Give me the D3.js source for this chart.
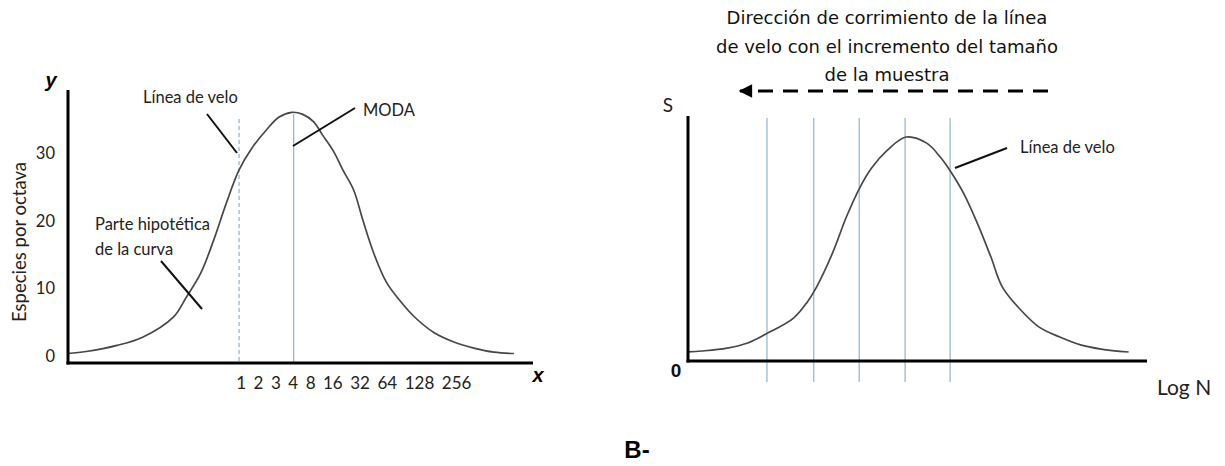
<!DOCTYPE html>
<html>
<head>
<meta charset="utf-8">
<script src="https://cdn.jsdelivr.net/npm/d3@7/dist/d3.min.js"></script>
<style>
  html, body { margin: 0; padding: 0; background: #fff; }
  svg { display: block; }
</style>
</head>
<body>
<svg id="fig" width="1225" height="466"></svg>
<script>
// ---- Left panel: species per octave (Preston curve) ----
const octavePos   = [-9.4, -8.4, -6.7, -5.3, -3.6, -2.9, -2.1, -1.4, -0.7, 0, 0.7, 1.5, 2.2, 2.9, 3.5, 4.1, 4.6, 5.2, 5.7, 6.3, 6.8, 7.4, 8.1, 8.9, 9.6, 10.7, 11.8, 12.9, 14.0, 15.1];
const speciesPerOctave = [0.4, 0.7, 1.6, 2.8, 5.8, 8.7, 12.3, 17.1, 22.6, 27.5, 30.7, 33.4, 35.3, 36.0, 35.7, 34.6, 32.6, 30.2, 27.5, 24.5, 20.1, 15.2, 10.9, 8.0, 5.9, 3.5, 2.1, 1.2, 0.6, 0.4];
const yTicks = [0, 10, 20, 30];
const octaveLabels = ["1", "2", "3", "4", "8", "16", "32", "64", "128", "256"];
const veilOctave = 0;   // veil line at the "1" octave
const modeOctave = 3;   // mode at the "4" octave

// ---- Right panel: S vs Log N ----
const logN   = [0, 0.3, 0.85, 1.3, 1.7, 2.3, 2.6, 2.8, 3.15, 3.45, 3.75, 4.0, 4.35, 4.75, 5.2, 5.5, 5.7, 6.0, 6.3, 6.6, 6.85, 7.25, 7.65, 8.1, 8.55, 9.0, 9.6];
const speciesS = [3.7, 4.1, 5.3, 7.4, 11.1, 17.6, 24.2, 30.3, 44.3, 59, 71.3, 79.1, 86.5, 91.8, 89.3, 83.5, 78.3, 68.9, 56.6, 42.6, 30.3, 20.9, 13.9, 9.8, 6.6, 4.9, 3.7];
const veilPositions = [1.72, 2.74, 3.73, 4.73, 5.71];
const titleLines = ["Dirección de corrimiento de la línea", "de velo con el incremento del tamaño", "de la muestra"];

const svg = d3.select("#fig");
svg.append("rect").attr("width", 1225).attr("height", 466).attr("fill", "#fff");

const SANS = "Lato, 'Open Sans', sans-serif";
const HAND = "'DejaVu Sans', sans-serif";
const curveColor = "#474747";
const blue = "#8fb2d0";

// ================= LEFT PANEL =================
const xL = d3.scaleLinear().domain([-9.4, 16.15]).range([68, 533]);
const yL = d3.scaleLinear().domain([-1, 39]).range([363, 92]);
const gL = svg.append("g");

// y tick labels
const yAxisL = d3.axisLeft(yL).tickValues(yTicks).tickSize(0).tickPadding(13).tickFormat(d3.format("d"));
const yAx = gL.append("g").attr("transform", `translate(${xL(-9.4)},0)`).call(yAxisL);
yAx.select(".domain").remove();
yAx.selectAll("text").attr("font-family", SANS).attr("font-size", 16.5).attr("fill", "#222");

// veil (dashed) and mode (solid) lines
gL.append("line")
  .attr("x1", xL(veilOctave)).attr("x2", xL(veilOctave))
  .attr("y1", yL(35)).attr("y2", yL(-1))
  .attr("stroke", blue).attr("stroke-width", 1.2).attr("stroke-dasharray", "4,3");
gL.append("line")
  .attr("x1", xL(modeOctave)).attr("x2", xL(modeOctave))
  .attr("y1", yL(35.8)).attr("y2", yL(-1))
  .attr("stroke", blue).attr("stroke-width", 1.2);

// curve
const lineL = d3.line().x((d, i) => xL(octavePos[i])).y(d => yL(d)).curve(d3.curveCatmullRom.alpha(0.5));
gL.append("path").datum(speciesPerOctave).attr("d", lineL)
  .attr("fill", "none").attr("stroke", curveColor).attr("stroke-width", 1.7);

// axes
gL.append("line").attr("x1", xL(-9.4)).attr("x2", xL(-9.4)).attr("y1", 90).attr("y2", yL(-1) + 1.5)
  .attr("stroke", "#000").attr("stroke-width", 3);
gL.append("line").attr("x1", xL(-9.4) - 1.5).attr("x2", xL(16.15)).attr("y1", yL(-1)).attr("y2", yL(-1))
  .attr("stroke", "#000").attr("stroke-width", 3);

// octave labels laid out as a row of words starting at the veil line
const tickG = gL.append("g").attr("font-family", SANS).attr("font-size", 17).attr("fill", "#222");
const tickTexts = tickG.selectAll("text").data(octaveLabels).join("text")
  .attr("y", 389).attr("text-anchor", "middle").text(d => d);
{
  const gap = 7.5;
  const widths = tickTexts.nodes().map(n => n.getComputedTextLength());
  let cx = xL(veilOctave) + 2;
  tickTexts.each(function (d, i) {
    if (i > 0) cx += widths[i - 1] / 2 + gap + widths[i] / 2;
    d3.select(this).attr("x", cx);
  });
}

// axis letters
gL.append("text").attr("x", 51).attr("y", 87).attr("text-anchor", "middle")
  .attr("font-family", "'Liberation Sans', Arial, sans-serif").attr("font-weight", "bold").attr("font-style", "italic")
  .attr("font-size", 20).text("y");
gL.append("text").attr("x", 538).attr("y", 382).attr("text-anchor", "middle")
  .attr("font-family", "'Liberation Sans', Arial, sans-serif").attr("font-weight", "bold").attr("font-style", "italic")
  .attr("font-size", 20).text("x");

// y title
gL.append("text").attr("transform", "translate(26,242) rotate(-90)").attr("text-anchor", "middle")
  .attr("font-family", SANS).attr("font-size", 18.5).attr("fill", "#222").text("Especies por octava");

// annotations
const ann = gL.append("g").attr("font-family", SANS).attr("font-size", 16.5).attr("fill", "#222");
ann.append("text").attr("x", 143).attr("y", 103).text("Línea de velo");
ann.append("text").attr("x", 363).attr("y", 116).text("MODA");
ann.append("text").attr("x", 95).attr("y", 230).text("Parte hipotética");
ann.append("text").attr("x", 95).attr("y", 255).text("de la curva");
const leaders = [[207, 114, 237, 153], [293, 146, 355, 108], [161, 261, 202, 309]];
gL.selectAll("line.leader").data(leaders).join("line").attr("class", "leader")
  .attr("x1", d => d[0]).attr("y1", d => d[1]).attr("x2", d => d[2]).attr("y2", d => d[3])
  .attr("stroke", "#111").attr("stroke-width", 2);

// ================= RIGHT PANEL =================
const xR = d3.scaleLinear().domain([0, 10]).range([688, 1147]);
const yR = d3.scaleLinear().domain([0, 100]).range([361, 117]);
const gR = svg.append("g");

gR.selectAll("line.veil").data(veilPositions).join("line").attr("class", "veil")
  .attr("x1", d => xR(d)).attr("x2", d => xR(d))
  .attr("y1", yR(100) + 1).attr("y2", yR(0) + 21)
  .attr("stroke", blue).attr("stroke-width", 1.2);

const lineR = d3.line().x((d, i) => xR(logN[i])).y(d => yR(d)).curve(d3.curveCatmullRom.alpha(0.5));
gR.append("path").datum(speciesS).attr("d", lineR)
  .attr("fill", "none").attr("stroke", curveColor).attr("stroke-width", 1.7);

gR.append("line").attr("x1", xR(0)).attr("x2", xR(0)).attr("y1", yR(100) - 1).attr("y2", yR(0) + 1.5)
  .attr("stroke", "#000").attr("stroke-width", 3);
gR.append("line").attr("x1", xR(0) - 1.5).attr("x2", xR(10)).attr("y1", yR(0)).attr("y2", yR(0))
  .attr("stroke", "#000").attr("stroke-width", 3);

gR.append("text").attr("x", 668).attr("y", 112).attr("text-anchor", "middle")
  .attr("font-family", SANS).attr("font-size", 19).attr("fill", "#222").text("S");
gR.append("text").attr("x", 676).attr("y", 377).attr("text-anchor", "middle")
  .attr("font-family", "'Liberation Sans', Arial, sans-serif").attr("font-weight", "bold")
  .attr("font-size", 19).attr("fill", "#111").text("0");
gR.append("text").attr("x", 1157).attr("y", 395)
  .attr("font-family", SANS).attr("font-size", 21).attr("fill", "#222").text("Log N");

gR.append("text").attr("x", 1020).attr("y", 153)
  .attr("font-family", SANS).attr("font-size", 16.5).attr("fill", "#222").text("Línea de velo");
gR.append("line").attr("x1", 955).attr("y1", 168).attr("x2", 1007).attr("y2", 148)
  .attr("stroke", "#111").attr("stroke-width", 2);

// title above the right panel
gR.append("g").attr("font-family", HAND).attr("font-size", 18).attr("fill", "#111")
  .selectAll("text").data(titleLines).join("text")
  .attr("x", 887).attr("y", (d, i) => 24 + i * 28.5).attr("text-anchor", "middle").text(d => d);

// dashed arrow pointing left
const defs = svg.append("defs");
defs.append("marker").attr("id", "head").attr("viewBox", "0 0 10 10")
  .attr("refX", 9).attr("refY", 5).attr("markerWidth", 5).attr("markerHeight", 4.5)
  .attr("markerUnits", "strokeWidth").attr("orient", "auto-start-reverse")
  .append("path").attr("d", "M0,0 L10,5 L0,10 Z").attr("fill", "#000");
gR.append("line").attr("x1", 1048).attr("y1", 91).attr("x2", 742).attr("y2", 91)
  .attr("stroke", "#000").attr("stroke-width", 3).attr("stroke-dasharray", "15,10");
gR.append("line").attr("x1", 745).attr("y1", 91).attr("x2", 740).attr("y2", 91)
  .attr("stroke", "#000").attr("stroke-width", 3).attr("marker-end", "url(#head)");

// panel label
svg.append("text").attr("x", 637).attr("y", 458).attr("text-anchor", "middle")
  .attr("font-family", "'Liberation Sans', Arial, sans-serif").attr("font-weight", "bold")
  .attr("font-size", 24).attr("fill", "#000").text("B-");
</script>
</body>
</html>
